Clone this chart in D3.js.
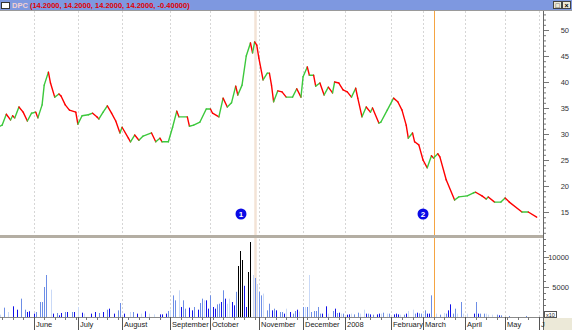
<!DOCTYPE html>
<html>
<head>
<meta charset="utf-8">
<script src="https://cdn.jsdelivr.net/npm/d3@7"></script>
<style>
  body { margin: 0; background: #fff; }
  svg { display: block; font-family: "Liberation Sans", Arial, sans-serif; }
</style>
</head>
<body>
<svg id="chart" width="572" height="330"></svg>
<script>
// x is a trading-day index, ~258 days from late May 2007 to early June 2008
const monthDays = [16, 37, 58, 81, 100, 123, 144, 164, 186, 201, 221, 240, 256];
const monthNames = ["June", "July", "August", "September", "October", "November",
  "December", "2008", "February", "March", "April", "May", "J"];

// closing price
const priceDay = [0, 1, 3, 5, 6, 7, 9, 11, 13, 15, 17, 18, 20, 21, 23, 24, 26, 28, 29, 31,
  33, 36, 37, 39, 42, 44, 46, 47, 49, 51, 53, 55, 57, 58, 61, 62, 64, 66, 68, 72,
  74, 76, 77, 80, 82, 84, 85, 89, 90, 92, 95, 98, 100, 101, 104, 106, 108, 110, 112, 113,
  115, 117, 119, 120, 121, 122, 123, 125, 127, 128, 129, 130, 132, 134, 136, 139, 141, 143, 144, 146,
  147, 149, 150, 152, 154, 156, 158, 159, 161, 163, 165, 167, 169, 170, 172, 174, 176, 177, 180, 181,
  184, 187, 189, 191, 193, 194, 196, 197, 199, 201, 203, 205, 206, 208, 209, 212, 216, 218, 222, 225,
  226, 229, 231, 232, 235, 238, 240, 242, 248, 251, 255];
const priceVal = [31.5, 31.7, 33.8, 32.7, 33.5, 33.1, 35.2, 34.2, 32.5, 34.0, 34.2, 33.1, 35.6, 39.4, 41.9, 39.8, 37.1, 37.7, 37.3, 35.6,
  34.6, 34.2, 31.9, 33.5, 33.7, 34.0, 33.3, 32.9, 34.2, 35.4, 34.0, 32.5, 30.2, 31.3, 29.2, 28.5, 29.8, 28.8, 29.6, 30.2,
  28.5, 29.2, 28.5, 28.5, 31.3, 34.4, 33.3, 33.3, 31.5, 31.7, 32.3, 34.8, 34.8, 34.0, 33.3, 36.9, 35.2, 36.0, 39.2, 37.5,
  39.4, 45.0, 47.5, 45.6, 47.7, 47.1, 44.6, 40.4, 41.7, 41.7, 39.4, 36.2, 38.3, 38.1, 37.1, 37.1, 38.7, 37.1, 41.0, 42.9,
  41.3, 41.3, 39.2, 39.8, 37.5, 39.0, 37.9, 40.0, 39.8, 38.5, 38.1, 37.1, 38.8, 36.9, 33.3, 35.2, 34.2, 35.0, 32.1, 32.3,
  34.6, 36.9, 36.2, 34.6, 31.7, 29.2, 30.2, 28.5, 27.9, 25.0, 23.5, 25.8, 25.4, 26.2, 25.6, 21.2, 17.3, 17.9, 18.1, 18.7,
  18.8, 18.1, 17.5, 17.9, 16.9, 16.9, 17.7, 16.9, 15.0, 15.0, 14.0];

// volume (x10) and bar shade: L light, M medium, D dark blue, K black
const volDay = [0, 2, 4, 6, 8, 10, 12, 13, 14, 16, 17, 19, 20, 21, 22, 24, 25, 27, 28, 29,
  31, 32, 34, 35, 37, 39, 40, 43, 45, 47, 49, 51, 52, 54, 56, 57, 59, 62, 63, 65,
  67, 69, 71, 73, 76, 77, 79, 80, 81, 82, 83, 85, 86, 87, 88, 90, 91, 92, 94, 95,
  96, 97, 98, 99, 100, 101, 102, 103, 104, 105, 106, 107, 108, 109, 110, 111, 112, 113, 114, 115,
  116, 117, 118, 119, 120, 121, 122, 123, 124, 125, 127, 128, 129, 130, 131, 133, 134, 135, 136, 138,
  139, 140, 141, 142, 144, 145, 146, 147, 148, 149, 150, 151, 152, 153, 155, 156, 158, 159, 160, 161,
  162, 163, 165, 166, 167, 168, 170, 171, 173, 174, 175, 176, 177, 179, 180, 181, 182, 184, 185, 187,
  188, 189, 190, 192, 193, 194, 196, 197, 198, 199, 200, 201, 202, 203, 204, 205, 207, 209, 211, 212,
  213, 214, 215, 216, 217, 219, 220, 222, 225, 226, 227, 228, 230, 231, 232, 234, 236, 237, 238, 242, 250];
const volVal = [390, 1560, 830, 1780, 1220, 3060, 1220, 830, 950, 560, 830, 2500, 2500, 5000, 7000, 4560, 560, 670, 280, 670,
  830, 830, 830, 830, 1670, 720, 560, 560, 830, 670, 830, 1220, 1390, 560, 1110, 2330, 560, 830, 830, 560,
  560, 950, 560, 440, 440, 440, 560, 1000, 1220, 3600, 2780, 4450, 1670, 2780, 1390, 1560, 1110, 1670, 1220, 2330,
  3060, 2780, 2780, 1390, 3610, 1670, 1390, 2110, 2220, 2500, 4450, 3060, 2220, 3060, 2500, 1950, 4200, 8500, 11000, 9500,
  5200, 1670, 7500, 12500, 7000, 6500, 5500, 4200, 3600, 3900, 1110, 2220, 1110, 1390, 1110, 830, 830, 560, 1390, 830,
  560, 1000, 1220, 900, 1670, 1670, 1670, 7000, 830, 1000, 1000, 1670, 560, 560, 1780, 560, 1000, 1390, 670, 720,
  560, 560, 390, 440, 560, 440, 720, 560, 1220, 560, 560, 440, 390, 440, 560, 560, 720, 560, 560, 440,
  560, 440, 390, 390, 560, 1000, 1220, 560, 720, 600, 560, 560, 1110, 560, 560, 3610, 560, 390, 670, 560,
  1110, 2110, 560, 1390, 560, 2500, 560, 560, 560, 2500, 560, 560, 560, 560, 390, 390, 390, 280, 280, 170, 170];
const volType = ["L", "M", "L", "D", "D", "M", "M", "D", "D", "D", "M", "M", "M", "M", "M", "L", "D", "M", "D", "D",
  "M", "D", "M", "D", "L", "D", "L", "D", "D", "M", "D", "M", "D", "D", "M", "M", "D", "L", "M", "D",
  "L", "D", "L", "L", "D", "D", "D", "M", "L", "M", "M", "L", "D", "M", "M", "D", "D", "M", "D", "M",
  "M", "L", "D", "D", "M", "D", "D", "M", "M", "D", "M", "D", "L", "L", "D", "D", "M", "K", "K", "K",
  "D", "D", "K", "K", "L", "M", "L", "M", "M", "L", "M", "M", "D", "M", "D", "M", "M", "D", "L", "D",
  "M", "M", "D", "L", "M", "L", "M", "L", "M", "M", "M", "M", "M", "D", "D", "L", "M", "D", "M", "D",
  "L", "M", "D", "D", "L", "M", "M", "L", "L", "D", "M", "D", "M", "D", "D", "L", "M", "L", "M", "D",
  "D", "D", "L", "M", "D", "L", "L", "M", "D", "M", "M", "L", "M", "D", "D", "M", "L", "M", "L", "M",
  "D", "D", "M", "M", "L", "M", "L", "L", "D", "M", "D", "M", "M", "L", "L", "L", "M", "D", "M", "M", "M"];

const priceTicks = [15, 20, 25, 30, 35, 40, 45, 50];
const volTicks = [5000, 10000];
// numbered event markers and their vertical lines
const events = [{ n: "1", markDay: 114.5, lineDay: 121.2, kind: "a" },
                { n: "2", markDay: 201, lineDay: 206.2, kind: "b" }];
const title = ["DPC", " (14.2000, 14.2000, 14.2000, 14.2000, -0.40000)"];

const svg = d3.select("#chart");
const W = 572, axisX = 543;
const topY = 11, sepY = 236, baseY = 317;

const x = d3.scaleLinear().domain([0, 258]).range([0, axisX]);
const y = d3.scaleLinear().domain([15, 50]).range([212, 30]);
const yv = d3.scaleLinear().domain([0, 10000]).range([baseY, 257]);

svg.append("rect").attr("width", W).attr("height", 330).attr("fill", "#fff");

// month grid lines
svg.append("g").selectAll("line").data(monthDays).join("line")
  .attr("x1", d => Math.round(x(d)) + 0.5).attr("x2", d => Math.round(x(d)) + 0.5)
  .attr("y1", topY).attr("y2", baseY)
  .attr("stroke", "#d6d6d6").attr("stroke-dasharray", "2,2");

// event lines
svg.append("g").selectAll("line").data(events).join("line")
  .attr("x1", d => Math.round(x(d.lineDay)) + 0.5).attr("x2", d => Math.round(x(d.lineDay)) + 0.5)
  .attr("y1", topY).attr("y2", baseY)
  .attr("stroke", d => d.kind === "a" ? "#f3e3d6" : "#f5a442")
  .attr("stroke-width", d => d.kind === "a" ? 2.5 : 1);

// volume bars
const vols = volDay.map((d, i) => ({ d, v: volVal[i], t: volType[i] }));
const volColor = { L: "#c9d9f7", M: "#6d8ee6", D: "#1010e8", K: "#000000" };
svg.append("g").selectAll("rect").data(vols).join("rect")
  .attr("x", d => Math.round(x(d.d)))
  .attr("y", d => yv(d.v))
  .attr("width", 1)
  .attr("height", d => baseY - yv(d.v))
  .attr("fill", d => volColor[d.t]);

// price line, green on up moves and red on down moves
const pts = priceDay.map((d, i) => ({ d, v: priceVal[i] }));
svg.append("g").selectAll("line").data(d3.pairs(pts)).join("line")
  .attr("x1", d => x(d[0].d)).attr("y1", d => y(d[0].v))
  .attr("x2", d => x(d[1].d)).attr("y2", d => y(d[1].v))
  .attr("stroke", d => d[1].v >= d[0].v ? "#3cc83c" : "#ff0000")
  .attr("stroke-width", 1.4).attr("stroke-linecap", "round");

// event markers
const mk = svg.append("g").selectAll("g").data(events).join("g")
  .attr("transform", d => `translate(${x(d.markDay)},214)`);
mk.append("circle").attr("r", 5.5).attr("fill", "#0a0ae6");
mk.append("text").text(d => d.n).attr("text-anchor", "middle").attr("y", 3)
  .attr("fill", "#fff").attr("font-size", 8).attr("font-weight", "bold");

// pane separator
svg.append("rect").attr("x", 0).attr("y", sepY - 1).attr("width", axisX + 1).attr("height", 3)
  .attr("fill", "#b4aea3");

// right axes
const axisStyle = g => {
  g.select(".domain").remove();
  g.selectAll("line").attr("stroke", "#777");
  g.selectAll("text").attr("x", 26).attr("text-anchor", "end")
    .attr("fill", "#333").attr("font-size", 7.5);
};
svg.append("g").attr("transform", `translate(${axisX},0)`)
  .call(d3.axisRight(y).tickValues(d3.range(11, 54)).tickSize(3).tickFormat(""))
  .call(axisStyle);
svg.append("g").attr("transform", `translate(${axisX},0)`)
  .call(d3.axisRight(y).tickValues(priceTicks).tickSize(6).tickPadding(4))
  .call(axisStyle);
svg.append("g").attr("transform", `translate(${axisX},0)`)
  .call(d3.axisRight(yv).tickValues(d3.range(1000, 14000, 1000)).tickSize(3).tickFormat(""))
  .call(axisStyle);
svg.append("g").attr("transform", `translate(${axisX},0)`)
  .call(d3.axisRight(yv).tickValues(volTicks).tickSize(6).tickPadding(4).tickFormat(d3.format("d")))
  .call(axisStyle);
svg.append("line").attr("x1", axisX + 0.5).attr("x2", axisX + 0.5).attr("y1", topY).attr("y2", 330)
  .attr("stroke", "#666");

// x10 box
svg.append("rect").attr("x", axisX + 1.5).attr("y", 311.5).attr("width", 12).attr("height", 6)
  .attr("fill", "#fff").attr("stroke", "#555");
svg.append("text").attr("x", axisX + 7.5).attr("y", 316.5).attr("text-anchor", "middle")
  .attr("font-size", 5.5).attr("fill", "#222").text("x10");

// bottom corner and x axis
svg.append("rect").attr("x", axisX + 1).attr("y", baseY + 1).attr("width", W - axisX).attr("height", 330 - baseY)
  .attr("fill", "#ece9d8");
svg.append("line").attr("x1", 0).attr("x2", axisX).attr("y1", baseY + 0.5).attr("y2", baseY + 0.5)
  .attr("stroke", "#8a8a8a");
svg.append("g").selectAll("line").data(d3.range(1, 258, 5)).join("line")
  .attr("x1", d => Math.round(x(d)) + 0.5).attr("x2", d => Math.round(x(d)) + 0.5)
  .attr("y1", baseY).attr("y2", baseY + 3).attr("stroke", "#777");
svg.append("g").selectAll("line").data(monthDays).join("line")
  .attr("x1", d => Math.round(x(d)) + 0.5).attr("x2", d => Math.round(x(d)) + 0.5)
  .attr("y1", baseY).attr("y2", 330).attr("stroke", "#555");
svg.append("g").selectAll("text").data(monthDays).join("text")
  .attr("x", d => Math.round(x(d)) + 2).attr("y", 327)
  .attr("font-size", 7.5).attr("fill", "#222")
  .text((d, i) => monthNames[i]);

// title bar
svg.append("rect").attr("width", W).attr("height", 10).attr("fill", "#7e98e0");
svg.append("line").attr("x1", 0).attr("x2", W).attr("y1", 10.5).attr("y2", 10.5).attr("stroke", "#9a9a9a");
svg.append("rect").attr("x", 1.5).attr("y", 2.5).attr("width", 8).attr("height", 6)
  .attr("fill", "#fff").attr("stroke", "#333");
const tt = svg.append("text").attr("x", 12).attr("y", 8).attr("font-size", 7.5).attr("font-weight", "bold");
tt.append("tspan").attr("fill", "#f4d0d0").text(title[0]);
tt.append("tspan").attr("fill", "#e00000").text(title[1]);
[553, 562].forEach((bx, i) => {
  svg.append("rect").attr("x", bx + 0.5).attr("y", 1.5).attr("width", 8).attr("height", 7)
    .attr("fill", "#ece9d8").attr("stroke", "#444");
  svg.append("text").attr("x", bx + 4.5).attr("y", 7.5).attr("text-anchor", "middle")
    .attr("font-size", 7).attr("font-weight", "bold").attr("fill", "#000").text(i ? "×" : "□");
});
</script>
</body>
</html>
